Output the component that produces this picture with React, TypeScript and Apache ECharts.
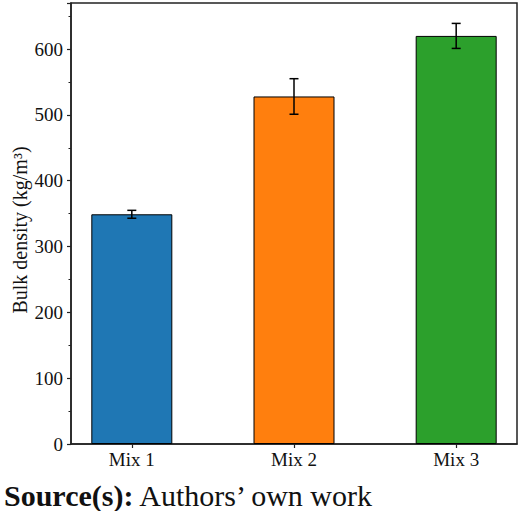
import React, { useEffect, useRef } from "react";
import * as echarts from "echarts";

const categories = ["Mix 1", "Mix 2", "Mix 3"];
const means = [349, 528, 620];
const errors = [6, 27, 19];
const colors = ["#1f77b4", "#ff7f0e", "#2ca02c"];
const yTicks = { min: 0, max: 670, interval: 100 };

const FONT = "'Liberation Serif', 'Times New Roman', serif";

export default function App() {
  const ref = useRef<HTMLDivElement>(null);
  useEffect(() => {
    if (!ref.current) return;
    const chart = echarts.init(ref.current, undefined, { renderer: "svg" });
    const barData = means.map((v, i) => ({
      value: [i, v],
      itemStyle: { color: colors[i], borderColor: "#000", borderWidth: 1 },
    }));
    const errData = means.map((v, i) => [i, v - errors[i], v + errors[i]]);
    chart.setOption({
      animation: false,
      grid: {
        left: 71,
        right: 3,
        top: 3,
        bottom: 67,
        show: true,
        borderColor: "#222",
        borderWidth: 1.5,
        backgroundColor: "#fff",
      },
      xAxis: {
        type: "value",
        min: -0.375,
        max: 2.375,
        splitLine: { show: false },
        axisLine: { show: true, onZero: false, lineStyle: { color: "#222", width: 1.5 } },
        axisTick: {
          show: true,
          customValues: [0, 1, 2],
          length: 4,
          lineStyle: { color: "#222", width: 1.2 },
        },
        axisLabel: {
          customValues: [0, 1, 2],
          formatter: (v: number) => categories[Math.round(v)],
          fontFamily: FONT,
          fontSize: 19,
          color: "#111",
          margin: 6,
        },
      },
      yAxis: {
        type: "value",
        min: yTicks.min,
        max: yTicks.max,
        interval: yTicks.interval,
        splitLine: { show: false },
        axisLine: { show: true, onZero: false, lineStyle: { color: "#222", width: 1.5 } },
        axisTick: { show: true, length: 4, lineStyle: { color: "#222", width: 1.2 } },
        minorTick: { show: true, splitNumber: 2, length: 2.5, lineStyle: { color: "#222", width: 1 } },
        axisLabel: {
          fontFamily: FONT,
          fontSize: 19,
          color: "#111",
          margin: 8,
          showMaxLabel: false,
        },
      },
      graphic: [
        {
          type: "text",
          x: 20,
          y: 230,
          rotation: Math.PI / 2,
          style: {
            text: "Bulk density (kg/m³)",
            fontFamily: FONT,
            fontSize: 20,
            fill: "#111",
            align: "center",
            verticalAlign: "middle",
          },
        },
        {
          type: "text",
          x: 4,
          y: 480,
          style: {
            text: "{b|Source(s):} Authors’ own work",
            fontFamily: FONT,
            fontSize: 30,
            fill: "#111",
            align: "left",
            verticalAlign: "top",
            rich: {
              b: { fontFamily: FONT, fontSize: 30, fontWeight: "bold", fill: "#111" },
            },
          },
        },
      ],
      series: [
        {
          type: "bar",
          data: barData,
          barWidth: 81,
        },
        {
          type: "custom",
          data: errData,
          encode: { x: 0, y: [1, 2] },
          z: 10,
          renderItem: (params: any, api: any) => {
            const x = api.value(0);
            const lo = api.coord([x, api.value(1)]);
            const hi = api.coord([x, api.value(2)]);
            const hw = 4.5;
            const style = { stroke: "#000", lineWidth: 1.5 };
            return {
              type: "group",
              children: [
                { type: "line", shape: { x1: hi[0], y1: hi[1], x2: lo[0], y2: lo[1] }, style },
                { type: "line", shape: { x1: hi[0] - hw, y1: hi[1], x2: hi[0] + hw, y2: hi[1] }, style },
                { type: "line", shape: { x1: lo[0] - hw, y1: lo[1], x2: lo[0] + hw, y2: lo[1] }, style },
              ],
            };
          },
        },
      ],
    });
    return () => chart.dispose();
  }, []);
  return (
    <div
      ref={ref}
      style={{ position: "fixed", left: 0, top: 0, width: 520, height: 511, background: "#fff" }}
    />
  );
}
